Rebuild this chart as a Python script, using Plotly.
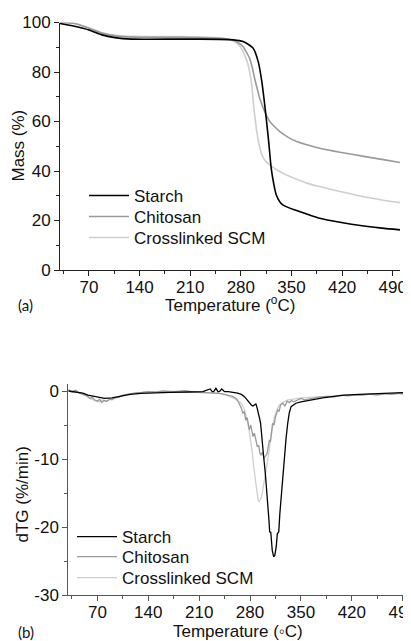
import plotly.graph_objects as go

# page body has an 8px margin; positions below are given in window pixels
OFF = 8
W, H = 411, 641

# ---------------- (a) TGA data ----------------
tga_temp_starch = [30, 50, 70, 88, 106, 129, 200, 250, 270, 283, 290, 297, 304, 309, 313, 318, 322, 326,
                   329, 334, 338, 345, 357, 375, 389, 417, 450, 475, 500]
tga_mass_starch = [99.6, 98.5, 97.0, 95.0, 93.9, 93.3, 93.3, 93.2, 93.0, 92.3, 91.2, 89.6, 84.2, 76.1, 66.7,
                   53.3, 41.1, 34.0, 30.3, 27.5, 26.3, 25.3, 24.0, 22.2, 20.9, 19.3, 17.8, 16.9, 16.2]

tga_temp_chitosan = [30, 50, 70, 88, 106, 129, 200, 250, 262, 270, 277, 283, 288, 292, 296, 299, 303, 306,
                     310, 313, 320, 327, 334, 345, 357, 375, 389, 417, 450, 475, 500]
tga_mass_chitosan = [100, 99.6, 97.7, 95.7, 94.6, 94.1, 94.0, 93.6, 93.3, 92.8, 91.7, 90.3, 87.8, 85.6, 81.5,
                     77.5, 72.8, 69.4, 66.2, 64.0, 60.0, 57.8, 55.9, 53.7, 51.9, 50.3, 49.2, 47.6, 45.9, 44.7, 43.4]

tga_temp_scm = [30, 50, 70, 88, 106, 129, 200, 250, 260, 268, 274, 279, 283, 287, 290, 293, 295, 298, 300,
                302, 305, 309, 314, 320, 330, 343, 357, 371, 390, 417, 450, 475, 500]
tga_mass_scm = [100, 99.7, 97.9, 95.9, 94.8, 94.4, 94.3, 93.8, 93.3, 92.7, 91.7, 90.3, 88.3, 85.5, 82.9,
                78.8, 74.8, 65.4, 60.5, 55.9, 51.0, 46.5, 44.0, 42.5, 40.4, 38.4, 36.7, 35.1, 33.6, 31.7,
                29.6, 28.3, 27.2]

# ---------------- (b) dTG data ----------------
dtg_temp_starch = [30, 40, 50, 57, 65, 72, 80, 90, 103, 115,
                   130, 149, 170, 195, 215, 225, 228, 230, 233, 236,
                   238, 241, 245, 250, 256, 263, 268, 272, 276, 279,
                   282, 284, 286, 288, 289.5, 291, 293, 294.5, 296, 297.5,
                   299, 301, 303, 304.5, 306, 307, 308.5, 310.5, 312.5, 314,
                   316, 317.5, 319.5, 321, 322.7, 325, 327.3, 329.5, 331.8, 334,
                   336.4, 340, 343, 350, 364, 380, 395, 410, 430, 450,
                   470, 490, 500]
dtg_rate_starch = [0, -0.1, -0.3, -0.6, -0.8, -0.95, -1.07, -1.0, -0.73, -0.5,
                   -0.34, -0.25, -0.2, -0.15, -0.1, 0.3, -0.1, -0.1, 0.4, -0.1,
                   -0.05, 0.3, -0.1, -0.1, -0.15, -0.3, -0.5, -0.8, -1.3, -1.8,
                   -2.1, -2.2, -2.1, -1.9, -2.4, -3.3, -4.0, -4.75, -6.2, -8.2,
                   -10, -12.1, -14.5, -17, -19, -20.7, -20.8, -23.4, -24.4, -24.2,
                   -22.9, -21, -20.7, -18, -15.5, -12.5, -9.7, -7, -4.75, -3.2,
                   -2.3, -2.0, -1.8, -1.6, -1.3, -1.0, -0.8, -0.6, -0.5, -0.4,
                   -0.3, -0.25, -0.2]

dtg_temp_chitosan = [30, 35, 40, 45, 48, 52, 56, 60, 63, 66,
                     70, 73, 76, 79, 83, 87, 90, 95, 100, 105,
                     110, 118, 125, 131, 140, 149, 160, 175, 190, 205,
                     218, 230, 240, 250, 256, 262, 266, 268, 270, 272,
                     274, 276, 277, 279, 281, 282.5, 284, 286, 288, 290,
                     292, 293.5, 295, 297, 299, 300.5, 302, 303.5, 305, 306.7,
                     308, 309.5, 311, 313, 315, 318, 320, 322, 325, 328,
                     331, 334, 337, 340, 345, 350, 355, 364, 375, 385,
                     395, 405, 415, 425, 435, 445, 455, 465, 475, 485,
                     490, 495, 500]
dtg_rate_chitosan = [0.2, -0.1, 0.1, -0.3, -0.4, -0.6, -0.7, -1.1, -0.9, -1.3,
                     -1.5, -1.2, -1.7, -1.4, -1.5, -1.2, -1.3, -1.0, -0.9, -0.6,
                     -0.5, -0.3, -0.25, -0.2, -0.1, -0.15, 0, -0.1, 0.05, -0.15,
                     -0.2, -0.3, -0.4, -0.6, -0.8, -1.2, -2.0, -2.5, -3.3, -3.0,
                     -4.3, -3.9, -4.5, -5.7, -5.0, -6.0, -6.7, -6.2, -7.5, -8.2,
                     -8.0, -9.2, -9.4, -9.0, -9.9, -9.6, -9.3, -9.2, -8.2, -7.2,
                     -7.5, -6.0, -4.75, -5.0, -3.8, -2.8, -3.0, -2.0, -1.8, -2.2,
                     -1.5, -1.7, -1.4, -1.6, -1.3, -1.1, -1.3, -1.1, -0.9, -0.8,
                     -0.9, -0.6, -0.7, -0.55, -0.6, -0.45, -0.6, -0.4, -0.5, -0.3,
                     -0.45, -0.35, -0.5]

dtg_temp_scm = [30, 36, 42, 47, 52, 57, 62, 67, 72, 77,
                82, 88, 94, 100, 108, 116, 125, 135, 145, 160,
                175, 190, 205, 220, 235, 245, 252, 258, 264, 268,
                272, 275, 277, 279, 281, 283, 285, 287, 289, 290.7,
                292, 294, 296, 297.5, 299, 301, 303.5, 306, 308, 310.5,
                313.5, 317, 320.4, 325, 331.8, 340, 350, 365, 380, 400,
                420, 440, 460, 480, 500]
dtg_rate_scm = [0.1, -0.2, -0.1, -0.4, -0.6, -0.9, -1.2, -1.4, -1.6, -1.3,
                -1.5, -1.2, -1.0, -0.8, -0.6, -0.4, -0.3, -0.2, -0.2, -0.1,
                -0.1, -0.15, -0.2, -0.25, -0.3, -0.5, -0.8, -1.1, -1.5, -1.8,
                -2.6, -3.8, -4.8, -6.0, -7.2, -9.0, -11.1, -13.0, -14.6, -15.8,
                -16.3, -16.0, -15.5, -14.6, -13.4, -12.0, -10.6, -9.0, -7.2, -5.5,
                -3.8, -2.8, -2.06, -1.7, -1.3, -1.2, -1.0, -0.9, -0.8, -0.7,
                -0.6, -0.5, -0.45, -0.4, -0.35]

series_names = ["Starch", "Chitosan", "Crosslinked SCM"]
x_tick_vals = [70, 140, 210, 280, 350, 420, 490]
x_tick_text = ["70", "140", "210", "280", "350", "420", "490"]
mass_tick_vals = [0, 20, 40, 60, 80, 100]
mass_tick_text = ["0", "20", "40", "60", "80", "100"]
dtg_tick_vals = [-30, -20, -10, 0]
dtg_tick_text = ["-30", "-20", "-10", "0"]

colors = {"Starch": "#000000", "Chitosan": "#9a9a9a", "Crosslinked SCM": "#cfcfcf"}
FONT = "Liberation Sans, Arial, sans-serif"


def px_x(p):
    return (p - OFF) / W


def px_y(p):
    return 1 - (p - OFF) / H


fig = go.Figure()

# one single-item legend per entry so each row sits where the reference puts it
top_legend_rows = {"Starch": ("legend", 196), "Chitosan": ("legend2", 217), "Crosslinked SCM": ("legend3", 238)}
bot_legend_rows = {"Starch": ("legend4", 537), "Chitosan": ("legend5", 557), "Crosslinked SCM": ("legend6", 578)}

top = [("Crosslinked SCM", tga_temp_scm, tga_mass_scm),
       ("Chitosan", tga_temp_chitosan, tga_mass_chitosan),
       ("Starch", tga_temp_starch, tga_mass_starch)]
for name, xs, ys in top:
    fig.add_trace(go.Scatter(x=xs, y=ys, name=name, mode="lines",
                             line=dict(color=colors[name], width=1.6, shape="spline", smoothing=0.6),
                             xaxis="x", yaxis="y", legend=top_legend_rows[name][0]))

bot = [("Crosslinked SCM", dtg_temp_scm, dtg_rate_scm),
       ("Chitosan", dtg_temp_chitosan, dtg_rate_chitosan),
       ("Starch", dtg_temp_starch, dtg_rate_starch)]
for name, xs, ys in bot:
    fig.add_trace(go.Scatter(x=xs, y=ys, name=name, mode="lines",
                             line=dict(color=colors[name], width=1.3),
                             xaxis="x2", yaxis="y2", legend=bot_legend_rows[name][0]))

axis_common = dict(showgrid=False, zeroline=False, showline=True, linewidth=1,
                   ticks="outside", ticklen=5, tickwidth=1, automargin=False,
                   tickfont=dict(family=FONT, size=17, color="#111"))

layout = dict(
    template="none",
    width=W, height=H, autosize=False,
    margin=dict(l=0, r=0, t=0, b=0, pad=0, autoexpand=False),
    paper_bgcolor="white", plot_bgcolor="white",
    font=dict(family=FONT, size=17, color="#111"),
    showlegend=True,
    xaxis=dict(domain=[px_x(60), px_x(400)], range=[30, 500], anchor="y",
               tickvals=x_tick_vals, ticktext=x_tick_text, ticklabelstandoff=-3,
               minor=dict(dtick=35, tick0=0, ticks="outside", ticklen=3, tickcolor="#222"),
               linecolor="#222", tickcolor="#222", **axis_common),
    yaxis=dict(domain=[px_y(270), px_y(22.5)], range=[0, 100], anchor="x",
               tickvals=mass_tick_vals, ticktext=mass_tick_text,
               minor=dict(dtick=10, tick0=0, ticks="outside", ticklen=3, tickcolor="#222"),
               linecolor="#222", tickcolor="#222", **axis_common),
    xaxis2=dict(domain=[px_x(68.3), px_x(410)], range=[30, 500], anchor="y2",
                tickvals=x_tick_vals, ticktext=x_tick_text, ticklabelstandoff=-3,
                ticklabeloverflow="allow",
                minor=dict(dtick=35, tick0=0, ticks="outside", ticklen=3, tickcolor="#555"),
                linecolor="#555", tickcolor="#555", **axis_common),
    yaxis2=dict(domain=[px_y(595), px_y(384.2)], range=[-30, 1], anchor="x2",
                tickvals=dtg_tick_vals, ticktext=dtg_tick_text,
                minor=dict(dtick=5, tick0=0, ticks="outside", ticklen=3, tickcolor="#555"),
                linecolor="#555", tickcolor="#555", **axis_common),
)

for name in series_names:
    for rows, left in ((top_legend_rows, 84), (bot_legend_rows, 72)):
        key, yc = rows[name]
        layout[key] = dict(x=px_x(left), y=px_y(yc), xanchor="left", yanchor="middle",
                           bgcolor="rgba(0,0,0,0)", borderwidth=0, itemwidth=40,
                           font=dict(family=FONT, size=17, color="#111"))

fig.update_layout(**layout)

annots = [
    dict(text="Temperature (<sup>o</sup>C)", x=px_x(230), y=px_y(304), font=dict(size=17)),
    dict(text="Mass (%)", x=px_x(17.5), y=px_y(146), textangle=-90, font=dict(size=17)),
    dict(text="(a)", x=px_x(25), y=px_y(305), font=dict(family="Lato, sans-serif", size=15)),
    dict(text="Temperature (\u25e6C)", x=px_x(238), y=px_y(631), font=dict(size=17)),
    dict(text="dTG (%/min)", x=px_x(21.5), y=px_y(495), textangle=-90, font=dict(size=17)),
    dict(text="(b)", x=px_x(26), y=px_y(632), font=dict(family="Lato, sans-serif", size=15)),
]
for a in annots:
    fig.add_annotation(xref="paper", yref="paper", showarrow=False,
                       xanchor="center", yanchor="middle", **a)

fig.write_html("out.html")
